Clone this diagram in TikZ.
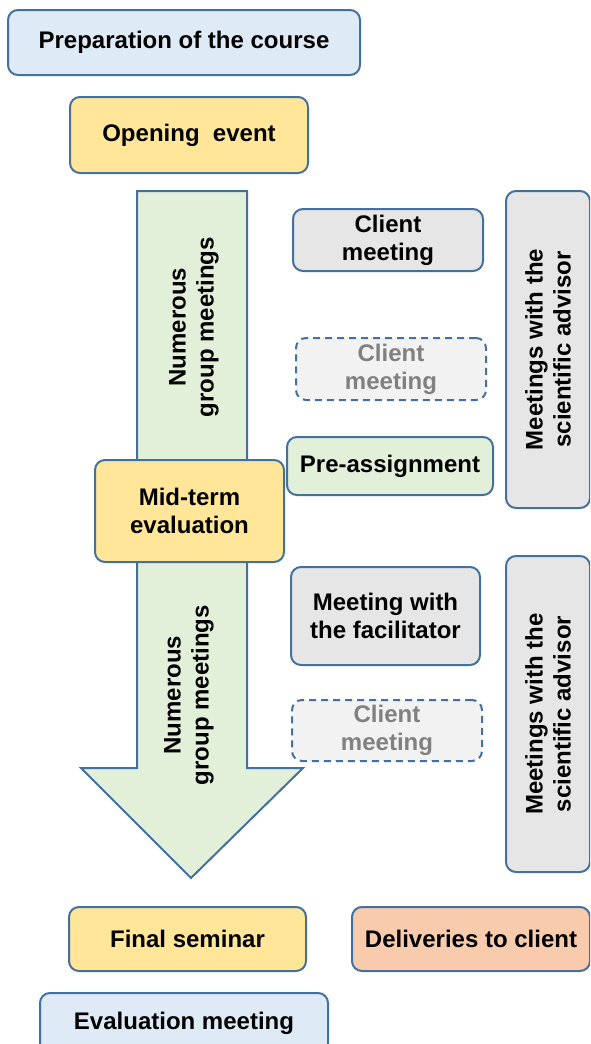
\documentclass[tikz,border=0pt]{standalone}
\usepackage{fontspec}
\setmainfont{Liberation Sans}
\definecolor{edgeblue}{RGB}{68,112,158}
\definecolor{prepblue}{RGB}{222,234,246}
\definecolor{eventyellow}{RGB}{255,230,153}
\definecolor{groupgreen}{RGB}{226,239,217}
\definecolor{meetgray}{RGB}{230,230,230}
\definecolor{palegray}{RGB}{242,242,242}
\definecolor{palegraytext}{RGB}{128,128,128}
\definecolor{deliverorange}{RGB}{248,203,173}
\tikzset{
  stagebox/.style={draw=edgeblue, line width=2pt, rounded corners=10pt,
    font=\bfseries\fontsize{24}{28}\selectfont, align=center, inner sep=0pt},
  optbox/.style={stagebox, fill=palegray, text=palegraytext, dash pattern=on 7pt off 5pt},
}
\begin{document}
\begin{tikzpicture}[x=1pt,y=-1pt]
        \useasboundingbox (0,0) rectangle (590,1044);
        \clip (0,0) rectangle (590,1044);
        % big arrow of the group work
        \coordinate (TL) at (137,191);
        \coordinate (TR) at (247,191);
        \coordinate (SR) at (247,768);
        \coordinate (HR) at (303,768);
        \coordinate (TIP) at (191,878);
        \coordinate (HL) at (81,768);
        \coordinate (SL) at (137,768);
        \draw[draw=edgeblue, line width=2pt, fill=groupgreen, line join=miter]
          (TL) -- (TR) -- (SR) -- (HR) -- (TIP) -- (HL) -- (SL) -- cycle;
        \node[rotate=90, align=center, font=\bfseries\fontsize{24}{28}\selectfont] (group1) at (194,327) {Numerous\\group meetings};
        \node[rotate=90, align=center, font=\bfseries\fontsize{24}{28}\selectfont] (group2) at (189,695) {Numerous\\group meetings};
        % stages
        \node[stagebox, fill=prepblue, minimum width=352pt, minimum height=65pt] (prep) at (184,42.5) {Preparation of the course};
        \node[stagebox, fill=eventyellow, minimum width=238pt, minimum height=76pt] (opening) at (189,135) {Opening\ \ event};
        \node[stagebox, fill=eventyellow, minimum width=189pt, minimum height=102pt] (midterm) at (189.5,511) {Mid-term\\evaluation};
        \node[stagebox, fill=eventyellow, minimum width=237pt, minimum height=64pt] (final) at (187.5,939) {Final seminar};
        \node[stagebox, fill=deliverorange, minimum width=238pt, minimum height=64pt] (deliver) at (471,939) {Deliveries to client};
        \node[stagebox, fill=prepblue, minimum width=288pt, minimum height=60pt] (evalmeet) at (184,1023) {Evaluation meeting};
        % meetings on the right
        \node[stagebox, fill=meetgray, minimum width=190pt, minimum height=62pt] (client1) at (388,240) {Client\\meeting};
        \node[optbox, minimum width=190pt, minimum height=62pt] (client2) at (391,369) {Client\\meeting};
        \node[stagebox, fill=groupgreen, minimum width=206pt, minimum height=58pt] (preassign) at (390,466) {Pre-assignment};
        \node[stagebox, fill=meetgray, minimum width=189pt, minimum height=98pt] (facil) at (385.5,616) {Meeting with\\the facilitator};
        \node[optbox, minimum width=190pt, minimum height=61pt] (client3) at (387,730.5) {Client\\meeting};
        \node[stagebox, fill=meetgray, minimum width=317pt, minimum height=84pt, rotate=90] (advisor1) at (548,349.5) {Meetings with the\\scientific advisor};
        \node[stagebox, fill=meetgray, minimum width=316pt, minimum height=84pt, rotate=90] (advisor2) at (548,714) {Meetings with the\\scientific advisor};
    \end{tikzpicture}
\end{document}
